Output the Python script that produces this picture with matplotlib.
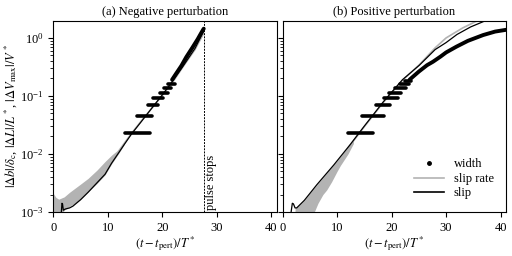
import numpy as np
import matplotlib
matplotlib.use("Agg")
import matplotlib.pyplot as plt
from matplotlib.lines import Line2D

plt.rcParams['font.family'] = 'serif'
plt.rcParams['font.serif'] = ['Liberation Serif', 'DejaVu Serif']
plt.rcParams['mathtext.fontset'] = 'stix'
plt.rcParams['font.size'] = 9

# ---- (a) negative perturbation, values as log10 ----
a_band_t = [0, 0.5, 1, 2, 3, 4, 5, 6.4, 8, 9.5, 10.7, 12, 13]
a_band_hi = [-2.68, -2.75, -2.78, -2.74, -2.66, -2.59, -2.52, -2.42, -2.28, -2.13, -2.02, -1.92, -1.8]
a_band_lo = [-3.1, -3.1, -3.1, -2.97, -2.9, -2.85, -2.78, -2.65, -2.51, -2.36, -2.17, -1.99, -1.84]

a_rate_t = [12, 13, 14.4, 16, 18, 20.1, 22, 24, 26, 27.6]
a_rate = [-1.95, -1.82, -1.64, -1.45, -1.22, -0.98, -0.75, -0.47, -0.2, 0.08]

a_slip_t = [1.45, 1.6, 1.7, 1.85, 2.2, 3.0, 3.6, 5, 6.4, 8, 9.5, 10.7, 12,
            13, 14.4, 16, 18, 20.1, 22, 24, 26, 27.6]
a_slip = [-3.05, -2.85, -2.86, -2.97, -2.95, -2.93, -2.9, -2.79, -2.66, -2.5,
          -2.35, -2.16, -1.98, -1.84, -1.65, -1.46, -1.22, -0.97, -0.73, -0.46, -0.18, 0.12]

a_width_n = [1, 2, 3, 4, 5, 6, 7]
a_width_t0 = [13.2, 15.3, 17.3, 18.3, 19.6, 20.4, 21.0]
a_width_t1 = [17.7, 18.1, 19.2, 20.2, 21.0, 21.6, 22.3]
a_width_ct = [21.8, 22.5, 23.5, 24.4, 25.5, 26.5, 27.1, 27.6]
a_width_c = [-0.72, -0.62, -0.48, -0.33, -0.17, -0.02, 0.08, 0.16]

# ---- (b) positive perturbation ----
b_band_t = [2.3, 3, 4, 5.6, 6.5, 7.4, 8.1, 9, 10, 10.6, 12, 13]
b_band_hi = [-2.93, -2.89, -2.8, -2.61, -2.51, -2.41, -2.33, -2.23, -2.12, -2.05, -1.88, -1.76]
b_band_lo = [-3.1, -3.1, -3.1, -3.05, -2.85, -2.7, -2.62, -2.48, -2.3, -2.2, -2.0, -1.82]

b_rate_t = [12, 15, 18.5, 22, 25, 28, 30, 33, 35.8]
b_rate = [-1.9, -1.53, -1.11, -0.73, -0.47, -0.17, 0.0, 0.17, 0.3]

b_slip_t = [1.5, 1.8, 2.0, 2.3, 2.6, 4, 6.3, 9.4, 12.4, 15, 18.5, 22, 25.1,
            28, 30, 32, 34.5, 37.3]
b_slip = [-3.05, -2.85, -2.86, -2.93, -2.93, -2.8, -2.53, -2.19, -1.84, -1.52,
          -1.10, -0.72, -0.47, -0.2, -0.08, 0.06, 0.19, 0.3]

b_width_n = [1, 2, 3, 4, 5, 6, 7, 8]
b_width_t0 = [12.0, 14.6, 17.1, 18.7, 19.6, 20.7, 21.5, 22.4]
b_width_t1 = [16.6, 18.7, 19.8, 21.2, 21.8, 22.6, 23.2, 23.6]
b_width_ct = [23.3, 23.9, 25, 26.5, 27.6, 29, 30, 31.9, 34, 36.8, 39, 41]
b_width_c = [-0.72, -0.67, -0.58, -0.47, -0.41, -0.32, -0.25, -0.15, -0.05, 0.05, 0.11, 0.14]

width_step = 0.0229
t_stop = 27.6
gray = '#b3b3b3'


def draw(ax, band_t, band_lo, band_hi, rate_t, rate, slip_t, slip,
         wn, wt0, wt1, wct, wc):
    ax.fill_between(band_t, 10**np.array(band_lo), 10**np.array(band_hi),
                    color=gray, lw=0)
    ax.plot(rate_t, 10**np.array(rate), color=gray, lw=1.2)
    for n, t0, t1 in zip(wn, wt0, wt1):
        ax.plot([t0, t1], [n * width_step] * 2, color='k', lw=2.6,
                solid_capstyle='round')
    ax.plot(wct, 10**np.array(wc), color='k', lw=2.8, solid_capstyle='round')
    ax.plot(slip_t, 10**np.array(slip), color='k', lw=0.9)
    ax.set_yscale('log')
    ax.set_xlim(0, 41)
    ax.set_ylim(1e-3, 1.96)
    ax.set_xticks([0, 10, 20, 30, 40])
    ax.set_xlabel(r'$(t-t_\mathrm{pert})/T^*$', labelpad=0.5)


fig = plt.figure(figsize=(5.12, 2.56), dpi=100)
ax1 = fig.add_axes([0.104, 0.172, 0.4366, 0.746])
ax2 = fig.add_axes([0.5518, 0.172, 0.4366, 0.746])

draw(ax1, a_band_t, a_band_lo, a_band_hi, a_rate_t, a_rate, a_slip_t, a_slip,
     a_width_n, a_width_t0, a_width_t1, a_width_ct, a_width_c)
draw(ax2, b_band_t, b_band_lo, b_band_hi, b_rate_t, b_rate, b_slip_t, b_slip,
     b_width_n, b_width_t0, b_width_t1, b_width_ct, b_width_c)

ax1.axvline(t_stop, color='k', ls='--', lw=0.7, dashes=(2, 1.2))
ax1.text(t_stop + 0.3, 1.08e-3, 'pulse stops', rotation=90,
         ha='left', va='bottom')
ax1.set_ylabel(r'$|\Delta b|/\delta_\mathrm{c}$, $|\Delta L|/L^*$, '
               r'$|\Delta V_\mathrm{max}|/V^*$', fontsize=9)
ax1.yaxis.set_label_coords(-0.155, 0.5)
ax2.tick_params(labelleft=False)

ax1.set_title('(a) Negative perturbation', fontsize=9, pad=4)
ax2.set_title('(b) Positive perturbation', fontsize=9, pad=4)

handles = [Line2D([], [], color='k', marker='.', ls='none', markersize=5),
           Line2D([], [], color=gray, lw=1.2),
           Line2D([], [], color='k', lw=1.2)]
ax2.legend(handles, ['width', 'slip rate', 'slip'], loc='lower right',
           frameon=False, handlelength=2.4, labelspacing=0.2,
           borderaxespad=0.6)

fig.savefig('out.png', dpi=100)
